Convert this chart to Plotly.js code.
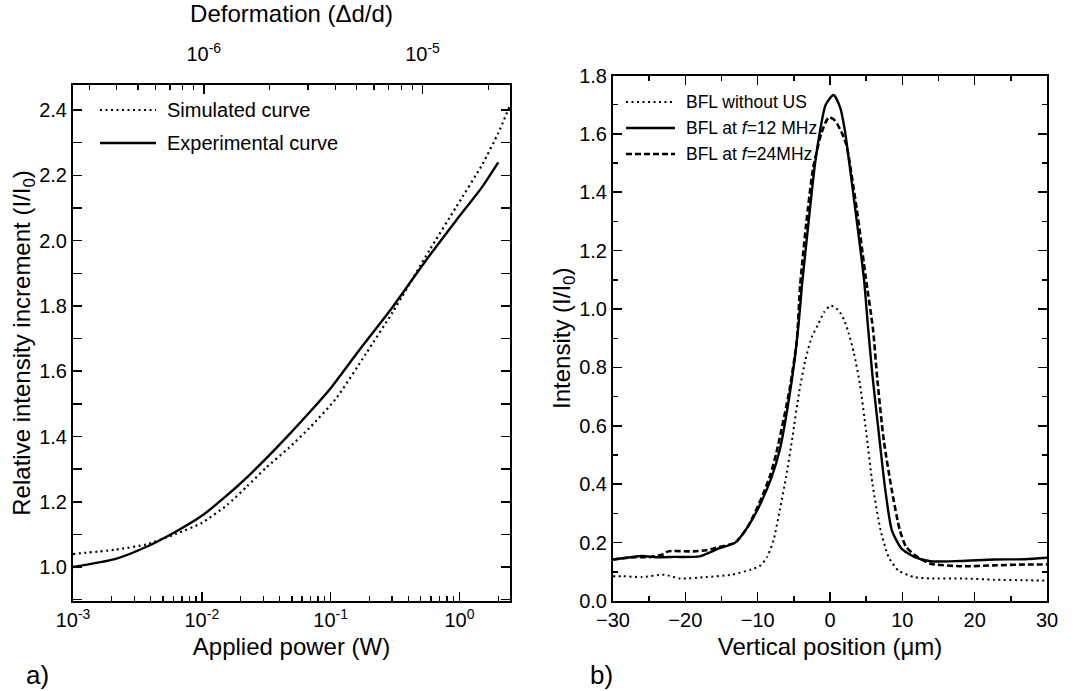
<!DOCTYPE html>
<html><head><meta charset="utf-8">
<script src="https://cdn.plot.ly/plotly-3.0.1.min.js"></script>
<style>html,body{margin:0;padding:0;background:#fff}#chart{width:1090px;height:691px}</style>
</head><body><div id="chart"></div>
<script>
// ---------- Panel a) data ----------
const powerSim = [0.001, 0.00211, 0.00376, 0.00631, 0.01, 0.0158, 0.0224, 0.0316, 0.0473, 0.07, 0.11, 0.188, 0.303, 0.583, 0.942, 1.517, 2.0, 2.44];
const intensitySim = [1.04, 1.053, 1.07, 1.102, 1.135, 1.191, 1.247, 1.305, 1.365, 1.43, 1.516, 1.654, 1.781, 1.97, 2.103, 2.236, 2.33, 2.41];
const powerExp = [0.001, 0.00211, 0.00376, 0.00631, 0.01, 0.0158, 0.0224, 0.0316, 0.0473, 0.07, 0.1, 0.167, 0.303, 0.55, 0.942, 1.5, 2.0];
const intensityExp = [1.0, 1.024, 1.063, 1.109, 1.157, 1.221, 1.275, 1.333, 1.405, 1.478, 1.548, 1.665, 1.797, 1.94, 2.062, 2.165, 2.24];
const seriesA = ['Simulated curve', 'Experimental curve'];
const powerTickVals = [0.001, 0.01, 0.1, 1];
const powerTickText = ['10<sup>-3</sup>', '10<sup>-2</sup>', '10<sup>-1</sup>', '10<sup>0</sup>'];
const deformTickVals = [1e-6, 1e-5];
const deformTickText = ['10<sup>-6</sup>', '10<sup>-5</sup>'];

// ---------- Panel b) data ----------
const posNoUS = [-30, -28.6, -26, -22.9, -20.7, -17.1, -13.6, -10.9, -9.6, -8.7, -7.8, -6.95, -6.06, -5.18, -4.29, -3.4, -2.5, -1.67, -0.8, 0.1, 1.2, 2.0, 2.57, 3.3, 4.12, 5.0, 5.88, 6.99, 8.1, 9.42, 11.64, 13.85, 18.27, 22.7, 27, 30];
const intNoUS = [0.085, 0.085, 0.082, 0.09, 0.077, 0.082, 0.09, 0.108, 0.122, 0.151, 0.208, 0.311, 0.426, 0.563, 0.712, 0.826, 0.906, 0.946, 0.99, 1.012, 0.995, 0.96, 0.918, 0.85, 0.745, 0.58, 0.4, 0.243, 0.151, 0.105, 0.082, 0.077, 0.077, 0.073, 0.071, 0.07];
const pos12 = [-30, -26, -24, -21.5, -18, -15.35, -13.1, -11.37, -9.6, -8.05, -6.95, -5.84, -4.82, -4.3, -3.88, -3.0, -2.11, -1.45, -0.6, 0.5, 1.41, 2.07, 2.51, 3.61, 4.71, 5.25, 5.88, 6.77, 7.65, 8.54, 9.87, 11.64, 13.85, 18, 22.7, 27, 30];
const int12 = [0.142, 0.154, 0.15, 0.151, 0.153, 0.18, 0.2, 0.254, 0.334, 0.426, 0.517, 0.666, 0.84, 0.96, 1.08, 1.29, 1.49, 1.6, 1.70, 1.733, 1.69, 1.61, 1.53, 1.32, 1.1, 0.94, 0.77, 0.57, 0.38, 0.243, 0.18, 0.151, 0.136, 0.137, 0.142, 0.143, 0.148];
const pos24 = [-30, -27, -25, -23, -22.4, -18.9, -17.1, -15.35, -13.1, -11.37, -9.6, -8.27, -7.39, -5.62, -4.6, -4.13, -3.3, -2.35, -1.23, -0.5, -0.1, 0.5, 0.97, 1.7, 2.29, 2.73, 3.83, 4.93, 5.95, 6.55, 7.43, 8.54, 9.65, 10.53, 12.08, 13.85, 18.27, 22.7, 27, 30];
const int24 = [0.142, 0.15, 0.15, 0.16, 0.17, 0.17, 0.174, 0.185, 0.2, 0.254, 0.345, 0.43, 0.51, 0.72, 0.89, 1.08, 1.29, 1.48, 1.6, 1.645, 1.657, 1.65, 1.635, 1.6, 1.56, 1.5, 1.32, 1.11, 0.93, 0.757, 0.551, 0.38, 0.243, 0.185, 0.151, 0.128, 0.119, 0.122, 0.125, 0.125];
const seriesB = ['BFL without US', 'BFL at <i>f</i>=12 MHz', 'BFL at <i>f</i>=24MHz'];

// ---------- helpers (layout only) ----------
const FONT = 'Liberation Sans, Arial, Helvetica, sans-serif';
const W = 1090, H = 691;
const px = v => v / W;
const py = v => 1 - v / H;
function logMinors(fromExp, toExp) {
  const out = [];
  for (let e = fromExp; e <= toExp; e++) for (let d = 2; d <= 9; d++) out.push(d * Math.pow(10, e));
  return out;
}

const traces = [
  {x: powerSim, y: intensitySim, name: seriesA[0], xaxis: 'x', yaxis: 'y', mode: 'lines',
   line: {color: 'black', width: 2.2, dash: '2px,3.5px', shape: 'spline', smoothing: 0.5}},
  {x: powerExp, y: intensityExp, name: seriesA[1], xaxis: 'x', yaxis: 'y', mode: 'lines',
   line: {color: 'black', width: 2.4, shape: 'spline', smoothing: 0.6}},
  // empty carrier so the top (deformation) axis is drawn
  {x: deformTickVals, y: [null, null], name: 'Deformation axis', xaxis: 'x3', yaxis: 'y', mode: 'lines',
   hoverinfo: 'skip', showlegend: false, line: {color: 'rgba(0,0,0,0)'}},
  {x: posNoUS, y: intNoUS, name: seriesB[0], xaxis: 'x2', yaxis: 'y2', mode: 'lines',
   line: {color: 'black', width: 2, dash: '2px,3.5px', shape: 'spline', smoothing: 0.6}},
  {x: pos12, y: int12, name: seriesB[1], xaxis: 'x2', yaxis: 'y2', mode: 'lines',
   line: {color: 'black', width: 2.4, shape: 'spline', smoothing: 0.6}},
  {x: pos24, y: int24, name: seriesB[2], xaxis: 'x2', yaxis: 'y2', mode: 'lines',
   line: {color: 'black', width: 2.6, dash: '6px,3px', shape: 'spline', smoothing: 0.6}}
];

const axCommon = {showgrid: false, zeroline: false, showline: true, linewidth: 2, linecolor: 'black',
  ticks: 'inside', ticklen: 9, tickwidth: 1.6, tickcolor: 'black', tickfont: {size: 20, family: FONT, color: 'black'}};
const minorLin = dt => ({dtick: dt, ticks: 'inside', ticklen: 5, tickwidth: 1.4, tickcolor: 'black', showgrid: false});

const layout = {
  width: W, height: H, margin: {l: 0, r: 0, t: 0, b: 0},
  paper_bgcolor: 'white', plot_bgcolor: 'white', showlegend: false,
  font: {family: FONT, color: 'black', size: 20},
  xaxis: Object.assign({}, axCommon, {
    domain: [px(73), px(510)], anchor: 'y', type: 'log', range: [-3, 0.392], mirror: true,
    tickmode: 'array', tickvals: powerTickVals, ticktext: powerTickText,
    minor: {tickmode: 'array', tickvals: logMinors(-3, 0), ticks: 'inside', ticklen: 5, tickwidth: 1.4, tickcolor: 'black', showgrid: false},
    title: {text: 'Applied power (W)', font: {size: 24, family: FONT}, standoff: 8}
  }),
  xaxis3: Object.assign({}, axCommon, {
    overlaying: 'x', anchor: 'y', side: 'top', type: 'log', range: [-6.598, -4.600],
    tickmode: 'array', tickvals: deformTickVals, ticktext: deformTickText, ticklabelstandoff: 14,
    minor: {tickmode: 'array', tickvals: logMinors(-7, -5), ticks: 'inside', ticklen: 5, tickwidth: 1.4, tickcolor: 'black', showgrid: false},
    title: {text: 'Deformation (Δd/d)', font: {size: 24, family: FONT}, standoff: 10}
  }),
  yaxis: Object.assign({}, axCommon, {
    domain: [py(601), py(85)], anchor: 'x', range: [0.896, 2.477], mirror: 'allticks',
    tick0: 0, dtick: 0.2, tickformat: '.1f', minor: minorLin(0.1),
    title: {text: 'Relative intensity increment (I/I<sub>0</sub>)', font: {size: 24, family: FONT}, standoff: 0}
  }),
  xaxis2: Object.assign({}, axCommon, {
    domain: [px(613), px(1047)], anchor: 'y2', range: [-30, 30], mirror: 'allticks',
    tick0: 0, dtick: 10, minor: minorLin(5),
    title: {text: 'Vertical position (μm)', font: {size: 24, family: FONT}, standoff: 8}
  }),
  yaxis2: Object.assign({}, axCommon, {
    domain: [py(601), py(75.5)], anchor: 'x2', range: [0, 1.8], mirror: 'allticks',
    tick0: 0, dtick: 0.2, tickformat: '.1f', minor: minorLin(0.1),
    title: {text: 'Intensity (I/I<sub>0</sub>)', font: {size: 24, family: FONT}, standoff: 0}
  }),
  shapes: [
    {type: 'line', xref: 'paper', yref: 'paper', x0: px(100), x1: px(156), y0: py(110), y1: py(110), line: {color: 'black', width: 2, dash: '2px,3.5px'}},
    {type: 'line', xref: 'paper', yref: 'paper', x0: px(100), x1: px(156), y0: py(143), y1: py(143), line: {color: 'black', width: 2.4}},
    {type: 'line', xref: 'paper', yref: 'paper', x0: px(626), x1: px(675), y0: py(102), y1: py(102), line: {color: 'black', width: 2, dash: '2px,3.5px'}},
    {type: 'line', xref: 'paper', yref: 'paper', x0: px(626), x1: px(675), y0: py(128), y1: py(128), line: {color: 'black', width: 2.4}},
    {type: 'line', xref: 'paper', yref: 'paper', x0: px(626), x1: px(675), y0: py(154), y1: py(154), line: {color: 'black', width: 2.6, dash: '6px,3px'}}
  ],
  annotations: [
    {xref: 'paper', yref: 'paper', x: px(165), y: py(110), xanchor: 'left', yanchor: 'middle', showarrow: false, text: seriesA[0], font: {size: 20, family: FONT}},
    {xref: 'paper', yref: 'paper', x: px(165), y: py(143), xanchor: 'left', yanchor: 'middle', showarrow: false, text: seriesA[1], font: {size: 20, family: FONT}},
    {xref: 'paper', yref: 'paper', x: px(684), y: py(102), xanchor: 'left', yanchor: 'middle', showarrow: false, text: seriesB[0], font: {size: 17.5, family: FONT}},
    {xref: 'paper', yref: 'paper', x: px(684), y: py(128), xanchor: 'left', yanchor: 'middle', showarrow: false, text: seriesB[1], font: {size: 17.5, family: FONT}},
    {xref: 'paper', yref: 'paper', x: px(684), y: py(154), xanchor: 'left', yanchor: 'middle', showarrow: false, text: seriesB[2], font: {size: 17.5, family: FONT}},
    {xref: 'paper', yref: 'paper', x: px(24), y: py(675), xanchor: 'left', yanchor: 'middle', showarrow: false, text: 'a)', font: {size: 26, family: FONT}},
    {xref: 'paper', yref: 'paper', x: px(588), y: py(675), xanchor: 'left', yanchor: 'middle', showarrow: false, text: 'b)', font: {size: 26, family: FONT}}
  ]
};

Plotly.newPlot('chart', traces, layout, {displayModeBar: false, staticPlot: true});
</script>
</body></html>
